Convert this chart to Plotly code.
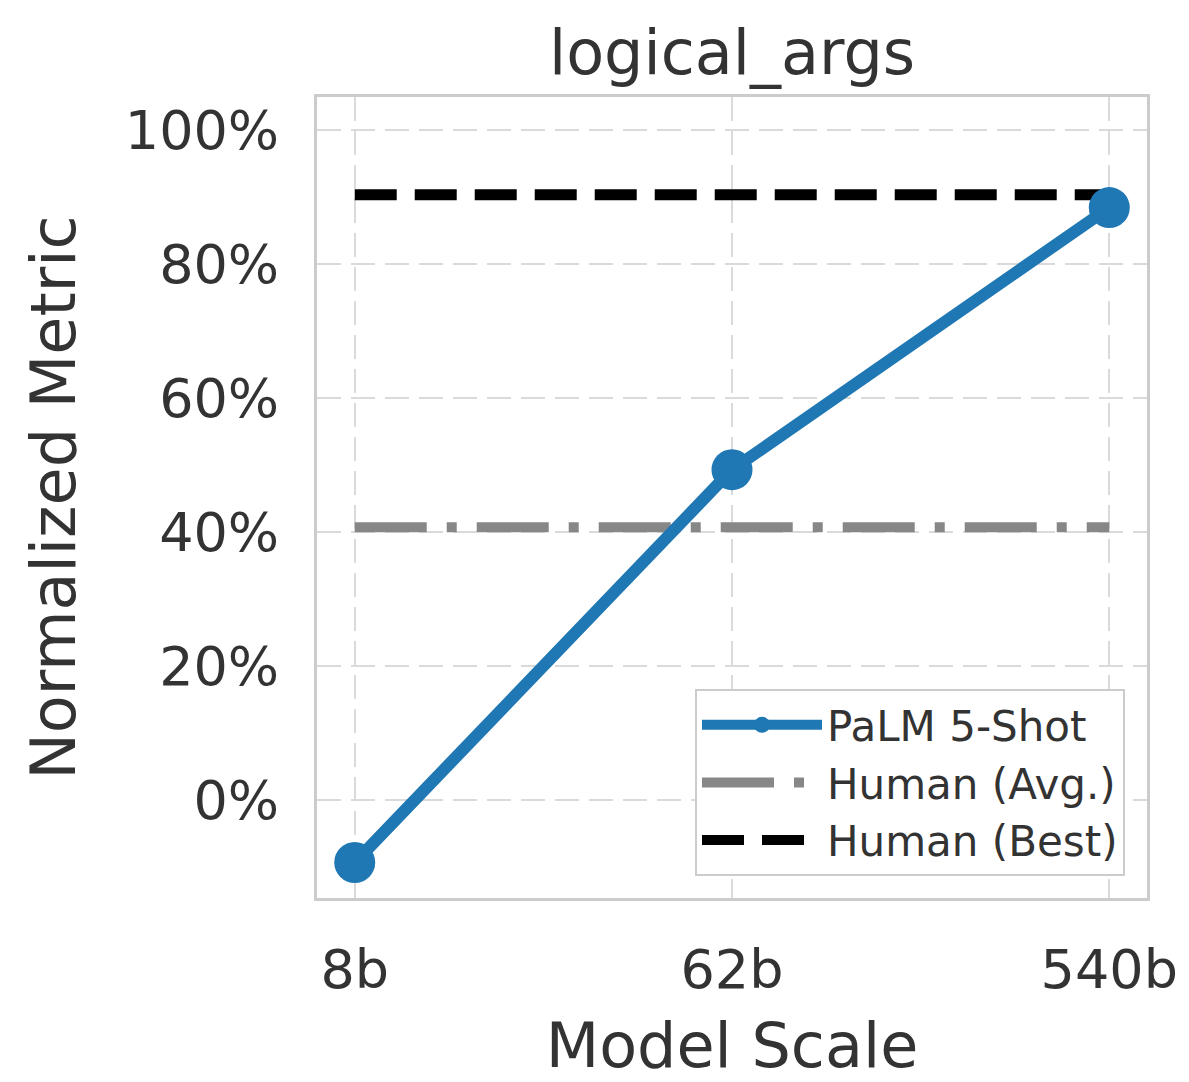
import plotly.graph_objects as go

model_scales = ["8b", "62b", "540b"]
palm_5shot = [-9.3, 49.3, 88.4]
human_avg = [40.7, 40.7, 40.7]
human_best = [90.3, 90.3, 90.3]
y_ticks = [0, 20, 40, 60, 80, 100]
y_tick_labels = ["0%", "20%", "40%", "60%", "80%", "100%"]

TXT = "#333333"
FONT = "DejaVu Sans"

fig = go.Figure()
fig.add_trace(go.Scatter(
    x=model_scales, y=human_avg, mode="lines", name="Human (Avg.)",
    line=dict(color="#878787", width=10, dash="72px,20px,10px,20px"),
    legendrank=2,
))
fig.add_trace(go.Scatter(
    x=model_scales, y=human_best, mode="lines", name="Human (Best)",
    line=dict(color="#000000", width=11, dash="42px,18px"),
    legendrank=3,
))
fig.add_trace(go.Scatter(
    x=model_scales, y=palm_5shot, mode="lines+markers", name="PaLM 5-Shot",
    line=dict(color="#1f77b4", width=12),
    marker=dict(color="#1f77b4", size=41),
    legendrank=1,
))

fig.update_layout(
    width=1189, height=1082,
    margin=dict(l=317, r=42, t=97, b=184),
    paper_bgcolor="white", plot_bgcolor="white",
    font=dict(family=FONT, color=TXT, size=54),
    title=dict(text="logical_args", x=0.5, xref="paper", xanchor="center",
               yref="container", y=0.952, yanchor="middle",
               font=dict(size=62, color=TXT, family=FONT)),
    xaxis=dict(
        type="category", range=[-0.1, 2.1],
        showgrid=True, gridcolor="#dadada", gridwidth=2, griddash="24px,10px",
        showline=True, linecolor="#cccccc", linewidth=3, mirror=True,
        ticks="", ticklabelstandoff=22,
        tickfont=dict(size=54, color=TXT),
        title=dict(text="Model Scale", font=dict(size=62, color=TXT), standoff=27),
        zeroline=False,
    ),
    yaxis=dict(
        range=[-14.6, 104.9],
        tickvals=y_ticks, ticktext=y_tick_labels,
        showgrid=True, gridcolor="#dadada", gridwidth=2, griddash="24px,10px",
        showline=True, linecolor="#cccccc", linewidth=3, mirror=True,
        ticks="", ticklabelstandoff=24,
        tickfont=dict(size=54, color=TXT),
        title=dict(text="Normalized Metric", font=dict(size=62, color=TXT), standoff=30),
        zeroline=False,
    ),
    legend=dict(
        x=0.9735, y=0.0274, xanchor="right", yanchor="bottom",
        bgcolor="white", bordercolor="#cccccc", borderwidth=2,
        font=dict(size=42, color=TXT, family=FONT),
        itemwidth=120,
    ),
)

fig.write_html("out.html")
